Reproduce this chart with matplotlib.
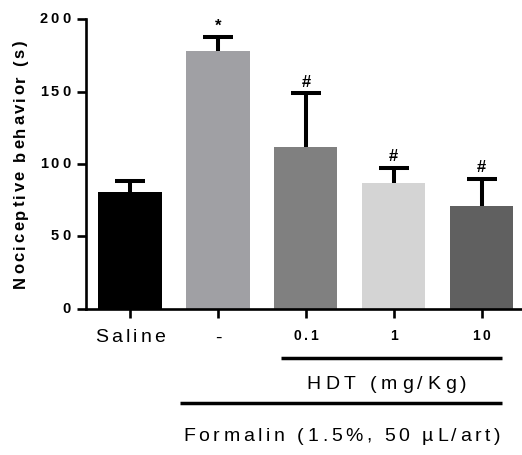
import numpy as np
import matplotlib
matplotlib.use("Agg")
import matplotlib.pyplot as plt
from matplotlib.transforms import offset_copy

# ----------------------------------------------------
# data
# ----------------------------------------------------
groups = ["Saline", "-", "0.1", "1", "10"]
means = [80.5, 178.0, 111.5, 87.0, 71.0]
sem_up = [8.0, 9.5, 37.5, 10.5, 19.0]
marks = ["", "*", "#", "#", "#"]
bar_colors = ["#000000", "#a0a0a4", "#808080", "#d4d4d4", "#606060"]
yticks = [0, 50, 100, 150, 200]

FONT = "Liberation Sans"
plt.rcParams["font.family"] = [FONT, "DejaVu Sans"]

fig = plt.figure(figsize=(5.22, 4.55), dpi=100)
ax = fig.add_axes([0.165, 0.321, 0.835, 0.637])
renderer = fig.canvas.get_renderer()


def char_width(ch, **kw):
    # width of one character in pixels
    if ch == " ":
        t1 = fig.text(0, 0, "a a", **kw)
        t2 = fig.text(0, 0, "aa", **kw)
        w = t1.get_window_extent(renderer).width - t2.get_window_extent(renderer).width
        t1.remove(); t2.remove()
        return w
    t = fig.text(0, 0, ch, **kw)
    w = t.get_window_extent(renderer).width
    t.remove()
    return w


def spaced_text(x, y, s, gap, transform, dx=0, ha="center", va="center", rotation=0, **kw):
    """letter-spaced text, drawn one character at a time (Prism style)"""
    widths = [char_width(c, **kw) for c in s]
    total = sum(widths) + gap * (len(s) - 1)
    if ha == "center":
        pos = -total / 2
    elif ha == "right":
        pos = -total
    else:
        pos = 0
    for c, w in zip(s, widths):
        if rotation == 90:
            tr = offset_copy(transform, fig=fig, x=dx, y=pos, units="dots")
            ax.text(x, y, c, transform=tr, rotation=90, ha="left", va="center",
                    rotation_mode="anchor", clip_on=False, **kw)
        else:
            tr = offset_copy(transform, fig=fig, x=dx + pos, y=0, units="dots")
            ax.text(x, y, c, transform=tr, ha="left", va=va, clip_on=False, **kw)
        pos += w + gap


xpos = np.arange(len(groups))
ax.bar(xpos, means, width=0.72, color=bar_colors, zorder=2)
_, caps, _ = ax.errorbar(xpos, means, yerr=[np.zeros(len(means)), sem_up], fmt="none",
                         ecolor="black", elinewidth=2.9, capsize=10.8, capthick=2.9, zorder=3)
# only the upper caps (Prism "above" error bars)
caps[0].remove()

# significance marks
for xi, m, s, mk in zip(xpos, means, sem_up, marks):
    if mk:
        ax.annotate(mk, (xi, m + s), xytext=(0, 2.5), textcoords="offset points",
                    ha="center", va="bottom", fontsize=12, fontweight="bold")

ax.set_ylim(0, 200)
ax.set_xlim(-0.5, 4.46)
ax.set_yticks(yticks)
ax.set_yticklabels([])
ax.set_xticks(xpos)
ax.set_xticklabels([])
for side in ["top", "right"]:
    ax.spines[side].set_visible(False)
for side in ["left", "bottom"]:
    ax.spines[side].set_linewidth(1.9)
ax.tick_params(axis="both", width=1.9, length=6.5, direction="out")

# y tick labels
ytr = ax.get_yaxis_transform()
for v in yticks:
    spaced_text(0, v, str(v), 3.0, ytr, dx=-16, ha="right", fontsize=10.5, fontweight="bold")

# y label
spaced_text(0, 0.5, "Nociceptive behavior (s)", 2.4, ax.transAxes, dx=-66,
            rotation=90, fontsize=12, fontweight="bold")

# x tick labels
xtr = ax.get_xaxis_transform()
spaced_text(0, -0.1, groups[0], 3.2, xtr, fontsize=14)
spaced_text(1, -0.1, groups[1], 0, xtr, fontsize=14)
for xi, g in zip(xpos[2:], groups[2:]):
    spaced_text(xi, -0.094, g, 2.5, xtr, fontsize=10, fontweight="bold")

# HDT bracket
ax.plot([1.72, 4.23], [-0.169, -0.169], transform=xtr, color="black",
        lw=2.5, clip_on=False, solid_capstyle="butt")
spaced_text(2.92, -0.262, "HDT (mg/Kg)", 4.5, xtr, fontsize=14)

# formalin bracket
ax.plot([0.57, 4.23], [-0.324, -0.324], transform=xtr, color="black",
        lw=2.5, clip_on=False, solid_capstyle="butt")
spaced_text(2.41, -0.44, "Formalin (1.5%, 50 µL/art)", 3.6, xtr, fontsize=14)

fig.savefig("out.png", dpi=100)
